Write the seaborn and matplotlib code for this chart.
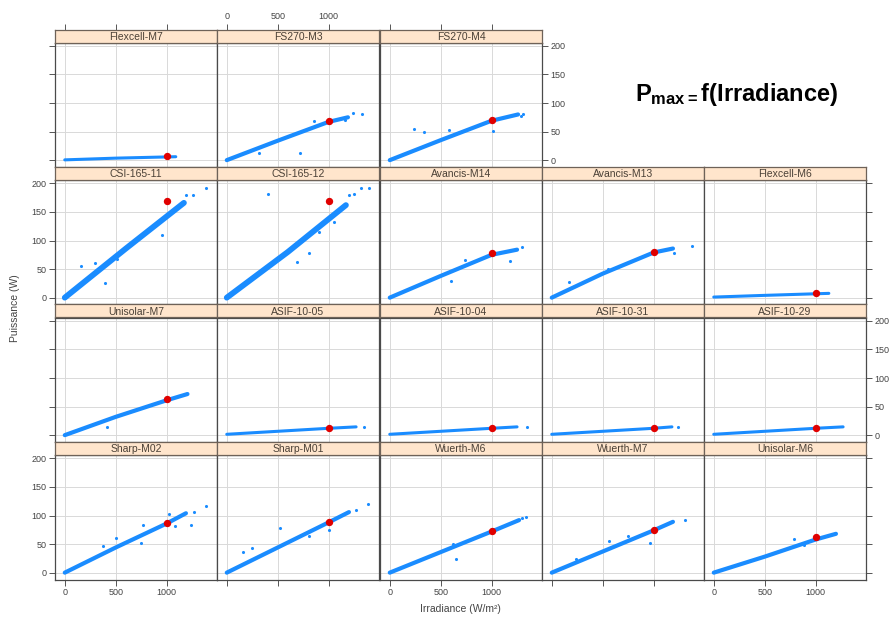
import pandas as pd
import matplotlib.pyplot as plt
import seaborn as sns

# --- DATA ---
modules = [
    "Flexcell-M7", "FS270-M3", "FS270-M4",
    "CSI-165-11", "CSI-165-12", "Avancis-M14", "Avancis-M13", "Flexcell-M6",
    "Unisolar-M7", "ASIF-10-05", "ASIF-10-04", "ASIF-10-31", "ASIF-10-29",
    "Sharp-M02", "Sharp-M01", "Wuerth-M6", "Wuerth-M7", "Unisolar-M6",
]
# panel row / column in the lattice layout
panel_row = [0, 0, 0, 1, 1, 1, 1, 1, 2, 2, 2, 2, 2, 3, 3, 3, 3, 3]
panel_col = [0, 1, 2, 0, 1, 2, 3, 4, 0, 1, 2, 3, 4, 0, 1, 2, 3, 4]

# main cloud of measurements (irradiance W/m2, power W)
band_x = [
    [0, 500, 1090], [0, 500, 1000, 1190], [0, 500, 1000, 1260],
    [0, 600, 1170], [0, 600, 1170], [0, 500, 1000, 1250],
    [0, 500, 1000, 1190], [0, 500, 1130],
    [0, 500, 1000, 1205], [0, 1000, 1270], [0, 1000, 1250], [0, 1000, 1180], [0, 1000, 1270],
    [0, 500, 1000, 1190], [0, 500, 1000, 1200], [0, 500, 1000, 1270], [0, 500, 1000, 1190],
    [0, 500, 1000, 1200],
]
band_y = [
    [0.5, 3.5, 6], [0, 34, 67, 75], [0, 35, 69, 80],
    [0, 86, 166], [0, 80, 162], [0, 38, 75, 84],
    [0, 42, 79, 86], [1, 4, 7.5],
    [0, 32, 61, 72], [1.5, 12, 14.5], [1.5, 12, 14.5], [1.5, 12, 14.5], [1.5, 12, 14.5],
    [0, 44, 86, 104], [0, 44, 88, 106], [0, 36, 72, 92], [0, 37, 74, 89],
    [0, 28, 58, 68],
]
# isolated measurements
out_x = [
    [], [1332, 1241, 1163, 860, 723, 316], [240, 338, 582, 1017, 1290, 1310],
    [1384, 1264, 1190, 951, 391, 163, 293, 511], [404, 1316, 1397, 1251, 1200, 1049, 811, 687, 902],
    [1183, 743, 603, 1300], [1381, 1205, 166, 550], [],
    [413], [1349], [1343], [1244], [],
    [1385, 1270, 1238, 1082, 1026, 505, 375, 772, 750], [1388, 1267, 1007, 518, 160, 248, 811],
    [652, 617, 1300, 1340], [1306, 965, 745, 560, 241], [785, 882],
]
out_y = [
    [], [81, 83, 71, 69, 13, 13], [55, 50, 52, 51, 78, 80],
    [192, 180, 180, 109, 25, 56, 60, 68], [181, 192, 192, 182, 180, 132, 78, 62, 115],
    [65, 66, 29.5, 88], [91, 79, 27.6, 50.6], [],
    [13.4], [15], [14.6], [14.6], [],
    [116, 106.5, 84, 81, 103, 60.5, 46, 84, 52], [120.5, 110.5, 75, 78, 37, 43, 63.5],
    [24, 50, 96, 98], [93, 51.7, 64, 55, 24], [59, 49],
]
# nameplate power at 1000 W/m2
stc_irr = [1000] * 18
stc_pmax = [7, 69, 71, 170, 170, 78, 80, 8.5, 63.5, 12.3, 12.3, 12.3, 12.3,
            87, 88.5, 73.5, 75, 62]

x_ticks = [0, 500, 1000]
y_ticks = [0, 50, 100, 150, 200]

band_df = pd.DataFrame([(m, x, y) for m, xs, ys in zip(modules, band_x, band_y)
                        for x, y in zip(xs, ys)], columns=["module", "irr", "p"])
out_df = pd.DataFrame([(m, x, y) for m, xs, ys in zip(modules, out_x, out_y)
                       for x, y in zip(xs, ys)], columns=["module", "irr", "p"])
stc_df = pd.DataFrame({"module": modules, "irr": stc_irr, "p": stc_pmax})

# --- STYLE ---
sns.set_theme(style="white")
plt.rcParams["font.family"] = ["Liberation Sans", "DejaVu Sans"]
plt.rcParams["mathtext.fontset"] = "custom"
plt.rcParams["mathtext.bf"] = "Liberation Sans:bold"
plt.rcParams["mathtext.rm"] = "Liberation Sans"

W, H = 889, 622
col_left = [55, 217, 380, 542, 704]
row_top = [29.5, 167, 304.5, 442]
pw, sh, ph = 162, 13, 124.5
blue = "#1a8cff"
txt = "#4a4036"
edge = "#4a4a4a"
last_col = {0: 2, 1: 4, 2: 4, 3: 4}


def rect(x, y, w, h):
    return [x / W, 1 - (y + h) / H, w / W, h / H]


fig = plt.figure(figsize=(W / 100, H / 100), dpi=100)

for i, m in enumerate(modules):
    r, c = panel_row[i], panel_col[i]
    x0, y0 = col_left[c], row_top[r]

    ax = fig.add_axes(rect(x0, y0 + sh, pw, ph))
    ax.set_xlim(-96, 1495)
    ax.set_ylim(-12, 206)
    ax.set_xticks(x_ticks)
    ax.set_yticks(y_ticks)
    ax.grid(True, color="#d9d9d9", lw=0.7)
    ax.set_axisbelow(True)

    # thicker cloud for the high-power modules, thin for the small ones
    peak = max(band_y[i])
    lw = 4.2 if peak > 150 else (2.2 if peak < 20 else 3.0)
    sns.lineplot(data=band_df[band_df.module == m], x="irr", y="p", ax=ax,
                 sort=False, estimator=None, color=blue, lw=lw,
                 solid_capstyle="round")
    sub = out_df[out_df.module == m]
    if len(sub):
        sns.scatterplot(data=sub, x="irr", y="p", ax=ax, color=blue, s=5,
                        linewidth=0)
    sns.scatterplot(data=stc_df[stc_df.module == m], x="irr", y="p", ax=ax,
                    color="#e00000", s=28, linewidth=0, zorder=5)
    ax.set_xlabel("")
    ax.set_ylabel("")

    is_left = c == 0
    is_right = c == last_col[r]
    is_bottom = r == 3
    ax.tick_params(direction="out", length=4, width=0.7, color="#555555",
                   labelsize=6.5, labelcolor="#444444", pad=2,
                   left=is_left, labelleft=is_left and r in (1, 3),
                   right=is_right, labelright=is_right and r in (0, 2),
                   bottom=is_bottom, labelbottom=is_bottom and c in (0, 2, 4),
                   top=False, labeltop=False)
    for s in ax.spines.values():
        s.set_color(edge)
        s.set_linewidth(0.9)

    # strip with module name
    st = fig.add_axes(rect(x0, y0, pw, sh))
    st.set_facecolor("#ffe5cc")
    st.set_xlim(-96, 1495)
    st.set_yticks([])
    st.set_xticks(x_ticks)
    st.tick_params(axis="x", direction="out", length=4, width=0.7,
                   color="#555555", labelsize=6.5, labelcolor="#444444", pad=2,
                   bottom=False, labelbottom=False,
                   top=(r == 0), labeltop=(r == 0 and c == 1))
    st.text(0.5, 0.45, m, transform=st.transAxes, ha="center", va="center",
            fontsize=7.5, color=txt)
    for s in st.spines.values():
        s.set_color("#6e6258")
        s.set_linewidth(0.9)

fig.text(15 / W, 1 - 308 / H, "Puissance (W)", rotation=90, ha="center",
         va="center", fontsize=7.5, color="#444444")
fig.text(460 / W, 1 - 609 / H, "Irradiance (W/m²)", ha="center",
         va="center", fontsize=7.5, color="#444444")
fig.text(635 / W, 1 - 95 / H, r"$\mathbf{P_{max=}f(Irradiance)}$",
         ha="left", va="center", fontsize=17, color="black")

fig.savefig("out.png", dpi=100)
